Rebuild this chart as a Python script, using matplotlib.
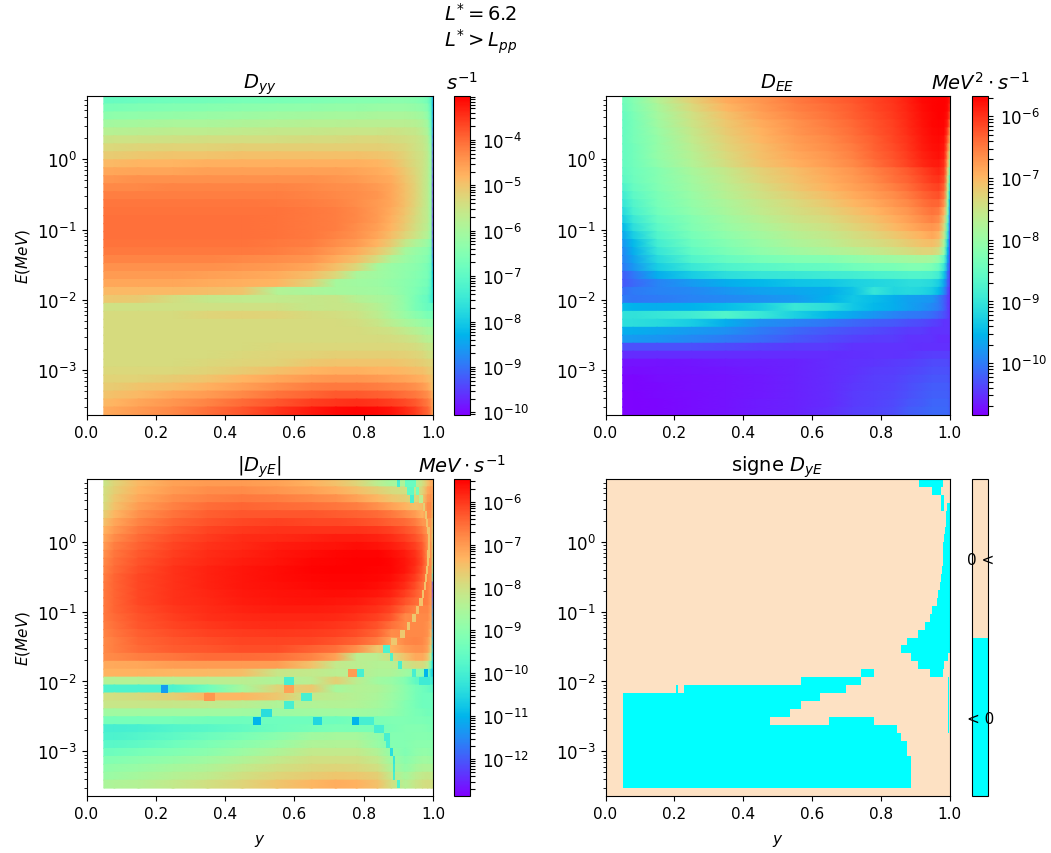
import numpy as np
import matplotlib
matplotlib.use('Agg')
import matplotlib.pyplot as plt
from matplotlib.colors import LogNorm, ListedColormap, BoundaryNorm
from matplotlib.cm import ScalarMappable

plt.rcParams['font.size'] = 11
plt.rcParams['mathtext.fontset'] = 'dejavusans'

# pitch angle nodes
y_nodes = [0.05, 0.08, 0.15, 0.25, 0.35, 0.45, 0.55, 0.65, 0.72, 0.78, 0.84, 0.88, 0.92, 0.95, 0.97, 0.985, 0.995, 1.0]

# log10(E) limits of the energy rows, top to bottom
log_E_edges = [0.9, 0.787, 0.673, 0.56, 0.446, 0.333, 0.219, 0.106, -0.008, -0.122, -0.235, -0.349, -0.462, -0.576,
               -0.689, -0.803, -0.916, -1.03, -1.143, -1.257, -1.37, -1.484, -1.597, -1.711, -1.824, -1.938, -2.051,
               -2.165, -2.278, -2.392, -2.505, -2.619, -2.732, -2.846, -2.959, -3.073, -3.186, -3.3, -3.413, -3.527, -3.64]

# decades labelled on the colorbars
dyy_decades = [-10, -9, -8, -7, -6, -5, -4]
dee_decades = [-10, -9, -8, -7, -6]
dye_decades = [-12, -11, -10, -9, -8, -7, -6]

# log10 of the coefficients, one line per energy row, top to bottom
log_dyy = [
    [-6.9,-6.85,-6.8,-6.75,-6.7,-6.65,-6.6,-6.55,-6.5,-6.45,-6.45,-6.4,-6.4,-6.45,-6.55,-6.7,-7.2,-8.6],
    [-6.65,-6.6,-6.55,-6.5,-6.45,-6.4,-6.35,-6.3,-6.25,-6.25,-6.2,-6.2,-6.2,-6.25,-6.35,-6.5,-7.1,-8.6],
    [-6.4,-6.35,-6.3,-6.25,-6.2,-6.15,-6.1,-6.05,-6.0,-6.0,-5.95,-5.95,-5.95,-6.0,-6.1,-6.3,-7.0,-8.7],
    [-6.1,-6.05,-6.0,-5.95,-5.95,-5.9,-5.85,-5.8,-5.8,-5.75,-5.75,-5.75,-5.75,-5.8,-5.9,-6.1,-6.9,-8.8],
    [-5.8,-5.8,-5.75,-5.7,-5.7,-5.65,-5.6,-5.6,-5.55,-5.55,-5.55,-5.5,-5.55,-5.6,-5.75,-5.95,-6.7,-9.0],
    [-5.55,-5.5,-5.5,-5.45,-5.4,-5.4,-5.4,-5.35,-5.35,-5.3,-5.3,-5.35,-5.4,-5.5,-5.6,-5.8,-6.5,-9.2],
    [-5.3,-5.3,-5.25,-5.2,-5.2,-5.15,-5.15,-5.15,-5.15,-5.15,-5.15,-5.2,-5.3,-5.45,-5.55,-5.75,-6.3,-9.3],
    [-5.1,-5.1,-5.05,-5.0,-5.0,-4.95,-4.95,-4.95,-4.95,-4.95,-5.0,-5.05,-5.2,-5.4,-5.5,-5.7,-6.2,-9.4],
    [-4.85,-4.85,-4.8,-4.8,-4.75,-4.75,-4.75,-4.75,-4.75,-4.75,-4.8,-4.9,-5.15,-5.35,-5.5,-5.7,-6.2,-9.5],
    [-4.65,-4.65,-4.6,-4.6,-4.55,-4.55,-4.55,-4.55,-4.55,-4.6,-4.7,-4.8,-5.05,-5.3,-5.5,-5.7,-6.2,-9.5],
    [-4.45,-4.45,-4.4,-4.4,-4.4,-4.4,-4.4,-4.4,-4.45,-4.5,-4.6,-4.7,-5.0,-5.25,-5.5,-5.7,-6.2,-9.6],
    [-4.3,-4.3,-4.3,-4.25,-4.25,-4.25,-4.25,-4.3,-4.35,-4.4,-4.5,-4.65,-4.95,-5.2,-5.5,-5.7,-6.2,-9.7],
    [-4.2,-4.2,-4.2,-4.2,-4.2,-4.2,-4.2,-4.25,-4.3,-4.35,-4.45,-4.65,-4.95,-5.2,-5.5,-5.7,-6.2,-9.7],
    [-4.12,-4.12,-4.12,-4.12,-4.12,-4.12,-4.15,-4.2,-4.25,-4.35,-4.5,-4.65,-4.95,-5.25,-5.5,-5.7,-6.2,-9.7],
    [-4.1,-4.1,-4.1,-4.1,-4.1,-4.1,-4.1,-4.15,-4.2,-4.3,-4.5,-4.7,-5.0,-5.3,-5.55,-5.7,-6.2,-9.7],
    [-4.05,-4.05,-4.05,-4.05,-4.05,-4.05,-4.1,-4.15,-4.2,-4.3,-4.5,-4.75,-5.05,-5.35,-5.55,-5.7,-6.2,-9.7],
    [-4.05,-4.05,-4.05,-4.05,-4.05,-4.05,-4.1,-4.15,-4.2,-4.35,-4.55,-4.8,-5.1,-5.4,-5.6,-5.75,-6.2,-9.6],
    [-4.05,-4.05,-4.05,-4.05,-4.05,-4.05,-4.1,-4.15,-4.25,-4.4,-4.65,-4.9,-5.25,-5.5,-5.7,-5.85,-6.3,-9.6],
    [-4.1,-4.1,-4.1,-4.1,-4.1,-4.1,-4.15,-4.2,-4.35,-4.5,-4.8,-5.1,-5.6,-5.9,-6.05,-6.2,-6.5,-9.5],
    [-4.15,-4.15,-4.15,-4.15,-4.15,-4.15,-4.2,-4.3,-4.5,-4.7,-5.05,-5.4,-6.0,-6.2,-6.3,-6.4,-6.7,-9.3],
    [-4.25,-4.25,-4.25,-4.25,-4.25,-4.3,-4.35,-4.45,-4.7,-4.95,-5.4,-5.9,-6.15,-6.3,-6.4,-6.5,-6.8,-9.0],
    [-4.4,-4.4,-4.4,-4.4,-4.4,-4.45,-4.5,-4.65,-4.95,-5.3,-6.0,-6.2,-6.3,-6.4,-6.5,-6.6,-6.9,-8.6],
    [-4.5,-4.5,-4.5,-4.5,-4.55,-4.6,-4.7,-4.9,-5.3,-5.95,-6.1,-6.2,-6.35,-6.45,-6.55,-6.65,-7.0,-8.3],
    [-4.65,-4.65,-4.65,-4.65,-4.7,-4.75,-4.8,-5.2,-6.0,-6.1,-6.15,-6.25,-6.4,-6.5,-6.6,-6.7,-7.1,-8.1],
    [-4.85,-4.85,-4.85,-4.85,-4.9,-5.0,-5.85,-5.95,-6.0,-6.05,-6.1,-6.2,-6.4,-6.55,-6.7,-6.8,-7.2,-7.8],
    [-5.05,-5.05,-5.1,-5.4,-5.6,-5.65,-5.65,-5.6,-5.55,-5.8,-5.95,-6.05,-6.35,-6.6,-6.8,-6.9,-7.3,-7.6],
    [-5.45,-5.45,-5.45,-5.45,-5.45,-5.45,-5.45,-5.6,-5.55,-5.6,-5.8,-6.05,-6.3,-6.6,-6.75,-6.85,-6.9,-7.0],
    [-5.35,-5.35,-5.35,-5.35,-5.25,-5.2,-5.25,-5.35,-5.4,-5.5,-5.7,-5.95,-6.2,-6.4,-6.5,-6.6,-6.6,-6.7],
    [-5.35,-5.35,-5.35,-5.35,-5.35,-5.35,-5.35,-5.35,-5.35,-5.4,-5.55,-5.75,-5.95,-6.1,-6.2,-6.25,-6.3,-6.4],
    [-5.35,-5.35,-5.35,-5.35,-5.35,-5.35,-5.35,-5.35,-5.35,-5.35,-5.42,-5.5,-5.65,-5.8,-5.9,-6.0,-6.0,-6.1],
    [-5.35,-5.35,-5.35,-5.35,-5.35,-5.35,-5.35,-5.35,-5.35,-5.35,-5.35,-5.38,-5.45,-5.55,-5.7,-5.8,-5.8,-5.9],
    [-5.35,-5.35,-5.35,-5.35,-5.35,-5.35,-5.3,-5.3,-5.3,-5.3,-5.3,-5.3,-5.32,-5.38,-5.45,-5.55,-5.6,-5.6],
    [-5.35,-5.35,-5.35,-5.35,-5.35,-5.3,-5.25,-5.2,-5.15,-5.15,-5.15,-5.15,-5.18,-5.25,-5.3,-5.4,-5.45,-5.5],
    [-5.35,-5.35,-5.35,-5.35,-5.3,-5.25,-5.2,-5.05,-5.0,-5.0,-5.0,-5.0,-5.05,-5.1,-5.15,-5.2,-5.25,-5.3],
    [-5.3,-5.3,-5.3,-5.3,-5.2,-5.1,-4.95,-4.8,-4.75,-4.75,-4.8,-4.8,-4.85,-4.9,-4.95,-5.05,-5.1,-5.2],
    [-5.2,-5.2,-5.2,-5.1,-5.0,-4.8,-4.65,-4.5,-4.45,-4.45,-4.5,-4.55,-4.6,-4.7,-4.75,-4.85,-4.95,-5.1],
    [-5.1,-5.1,-5.0,-4.9,-4.75,-4.55,-4.35,-4.2,-4.15,-4.15,-4.2,-4.25,-4.3,-4.4,-4.5,-4.65,-4.85,-5.1],
    [-5.0,-4.95,-4.85,-4.65,-4.5,-4.3,-4.1,-3.95,-3.85,-3.85,-3.9,-3.95,-4.05,-4.15,-4.25,-4.35,-4.55,-4.9],
    [-4.85,-4.8,-4.65,-4.45,-4.25,-4.0,-3.8,-3.6,-3.5,-3.45,-3.5,-3.6,-3.7,-3.85,-4.0,-4.15,-4.35,-4.8],
    [-4.7,-4.65,-4.5,-4.3,-4.05,-3.8,-3.5,-3.25,-3.12,-3.08,-3.12,-3.2,-3.4,-3.6,-3.8,-3.95,-4.25,-4.8],
]

log_dee = [
    [-8.4,-8.2,-7.75,-7.25,-6.9,-6.7,-6.5,-6.35,-6.25,-6.12,-6.0,-5.88,-5.75,-5.7,-5.68,-5.68,-5.72,-5.9],
    [-8.45,-8.25,-7.85,-7.35,-7.0,-6.75,-6.55,-6.4,-6.28,-6.15,-6.03,-5.9,-5.76,-5.7,-5.68,-5.68,-5.75,-6.0],
    [-8.5,-8.3,-7.9,-7.45,-7.1,-6.82,-6.6,-6.45,-6.3,-6.18,-6.05,-5.92,-5.78,-5.72,-5.69,-5.7,-5.8,-6.2],
    [-8.5,-8.35,-7.95,-7.5,-7.15,-6.9,-6.68,-6.5,-6.36,-6.22,-6.08,-5.95,-5.8,-5.73,-5.7,-5.72,-5.9,-6.5],
    [-8.5,-8.35,-8.0,-7.55,-7.2,-6.95,-6.72,-6.55,-6.4,-6.25,-6.1,-5.97,-5.82,-5.74,-5.72,-5.75,-6.1,-6.8],
    [-8.5,-8.35,-8.05,-7.6,-7.25,-7.0,-6.78,-6.6,-6.45,-6.3,-6.13,-6.0,-5.84,-5.76,-5.74,-5.8,-6.3,-7.0],
    [-8.5,-8.38,-8.05,-7.65,-7.3,-7.05,-6.82,-6.65,-6.5,-6.33,-6.16,-6.03,-5.86,-5.78,-5.76,-5.85,-6.5,-7.3],
    [-8.5,-8.38,-8.05,-7.7,-7.35,-7.08,-6.88,-6.7,-6.55,-6.37,-6.2,-6.06,-5.9,-5.82,-5.78,-5.9,-6.7,-7.6],
    [-8.5,-8.4,-8.1,-7.75,-7.4,-7.12,-6.93,-6.75,-6.6,-6.42,-6.24,-6.1,-5.95,-5.86,-5.84,-6.0,-6.9,-8.0],
    [-8.55,-8.42,-8.2,-7.85,-7.55,-7.25,-7.05,-6.85,-6.7,-6.55,-6.38,-6.27,-6.1,-5.98,-5.92,-6.1,-7.2,-8.4],
    [-8.6,-8.45,-8.2,-7.9,-7.6,-7.3,-7.1,-6.9,-6.75,-6.6,-6.43,-6.32,-6.17,-6.05,-6.0,-6.2,-7.4,-8.7],
    [-8.75,-8.5,-8.25,-7.95,-7.65,-7.4,-7.15,-6.95,-6.82,-6.68,-6.52,-6.4,-6.25,-6.15,-6.1,-6.35,-7.6,-9.0],
    [-8.9,-8.6,-8.3,-8.0,-7.7,-7.45,-7.25,-7.05,-6.9,-6.77,-6.62,-6.5,-6.35,-6.25,-6.2,-6.5,-7.8,-9.3],
    [-9.0,-8.7,-8.35,-8.05,-7.8,-7.55,-7.35,-7.15,-7.0,-6.87,-6.72,-6.6,-6.45,-6.35,-6.35,-6.7,-8.0,-9.6],
    [-9.15,-8.8,-8.4,-8.1,-7.85,-7.6,-7.42,-7.25,-7.1,-6.97,-6.82,-6.7,-6.55,-6.45,-6.5,-6.95,-8.2,-9.8],
    [-9.3,-8.95,-8.5,-8.2,-7.95,-7.7,-7.5,-7.35,-7.2,-7.07,-6.92,-6.8,-6.65,-6.55,-6.65,-7.2,-8.5,-10.0],
    [-9.5,-9.1,-8.6,-8.25,-8.0,-7.8,-7.6,-7.45,-7.3,-7.17,-7.02,-6.9,-6.78,-6.7,-6.8,-7.4,-8.8,-10.1],
    [-9.65,-9.3,-8.7,-8.35,-8.1,-7.9,-7.7,-7.55,-7.42,-7.3,-7.15,-7.05,-6.95,-6.85,-7.0,-7.6,-9.0,-10.2],
    [-9.8,-9.5,-8.85,-8.45,-8.2,-8.0,-7.8,-7.65,-7.5,-7.42,-7.3,-7.2,-7.1,-7.05,-7.2,-7.85,-9.3,-10.3],
    [-9.9,-9.6,-9.0,-8.55,-8.3,-8.1,-7.95,-7.8,-7.7,-7.6,-7.48,-7.4,-7.3,-7.3,-7.45,-8.1,-9.5,-10.3],
    [-9.95,-9.7,-9.15,-8.7,-8.5,-8.35,-8.25,-8.2,-8.1,-8.0,-7.95,-7.9,-7.85,-7.9,-8.1,-8.6,-9.7,-10.3],
    [-10.0,-9.8,-9.3,-8.95,-8.75,-8.65,-8.55,-8.5,-8.4,-8.35,-8.3,-8.25,-8.25,-8.3,-8.5,-9.0,-9.9,-10.35],
    [-10.2,-10.05,-9.6,-9.3,-9.1,-9.0,-8.95,-8.9,-8.85,-8.8,-8.75,-8.7,-8.7,-8.75,-8.9,-9.4,-10.1,-10.4],
    [-10.25,-10.15,-9.95,-9.75,-9.6,-9.5,-9.4,-9.35,-9.25,-9.2,-9.15,-9.1,-9.1,-9.15,-9.3,-9.7,-10.2,-10.4],
    [-10.1,-10.0,-9.95,-9.9,-9.8,-9.7,-9.65,-9.6,-9.4,-9.0,-9.2,-9.15,-9.2,-9.3,-9.5,-9.9,-10.3,-10.5],
    [-10.0,-10.05,-10.0,-9.95,-9.9,-9.85,-9.75,-9.55,-9.35,-9.45,-9.6,-9.7,-9.75,-9.8,-10.0,-10.2,-10.4,-10.5],
    [-9.5,-9.55,-9.6,-9.55,-9.45,-9.3,-8.95,-9.1,-9.35,-9.5,-9.6,-9.7,-9.8,-9.9,-10.0,-10.2,-10.4,-10.5],
    [-9.05,-9.05,-9.0,-8.9,-8.7,-8.95,-9.25,-9.5,-9.65,-9.8,-9.95,-10.0,-10.05,-10.1,-10.2,-10.3,-10.4,-10.5],
    [-9.1,-9.1,-9.15,-9.3,-9.6,-9.85,-9.95,-10.05,-10.15,-10.2,-10.25,-10.3,-10.35,-10.4,-10.45,-10.5,-10.5,-10.5],
    [-9.6,-9.6,-9.65,-9.75,-9.85,-10.0,-10.15,-10.25,-10.3,-10.35,-10.4,-10.45,-10.45,-10.5,-10.5,-10.5,-10.5,-10.5],
    [-9.75,-9.75,-9.8,-9.9,-10.0,-10.1,-10.25,-10.35,-10.4,-10.45,-10.45,-10.5,-10.5,-10.5,-10.55,-10.55,-10.55,-10.55],
    [-10.3,-10.3,-10.3,-10.3,-10.35,-10.4,-10.45,-10.45,-10.5,-10.5,-10.5,-10.5,-10.52,-10.52,-10.52,-10.52,-10.52,-10.52],
    [-10.55,-10.55,-10.55,-10.55,-10.55,-10.55,-10.55,-10.55,-10.52,-10.5,-10.5,-10.48,-10.45,-10.42,-10.42,-10.42,-10.42,-10.42],
    [-10.7,-10.7,-10.7,-10.68,-10.65,-10.62,-10.6,-10.55,-10.5,-10.48,-10.45,-10.42,-10.38,-10.35,-10.35,-10.35,-10.35,-10.38],
    [-10.75,-10.75,-10.72,-10.7,-10.68,-10.65,-10.6,-10.55,-10.5,-10.45,-10.42,-10.38,-10.34,-10.3,-10.3,-10.3,-10.3,-10.33],
    [-10.78,-10.78,-10.75,-10.72,-10.7,-10.66,-10.6,-10.55,-10.48,-10.43,-10.4,-10.35,-10.3,-10.27,-10.27,-10.27,-10.27,-10.3],
    [-10.78,-10.78,-10.76,-10.73,-10.7,-10.66,-10.6,-10.55,-10.47,-10.42,-10.38,-10.32,-10.27,-10.23,-10.23,-10.23,-10.23,-10.27],
    [-10.8,-10.8,-10.77,-10.74,-10.7,-10.66,-10.6,-10.55,-10.45,-10.4,-10.36,-10.3,-10.25,-10.2,-10.2,-10.2,-10.2,-10.25],
    [-10.8,-10.8,-10.78,-10.75,-10.7,-10.65,-10.6,-10.54,-10.45,-10.4,-10.34,-10.27,-10.22,-10.17,-10.17,-10.17,-10.17,-10.22],
    [-10.8,-10.8,-10.78,-10.75,-10.7,-10.65,-10.6,-10.53,-10.43,-10.38,-10.32,-10.23,-10.18,-10.14,-10.14,-10.14,-10.14,-10.2],
]

# |D_yE| has no value in the lowest energy row
log_dye = [
    [-8.1,-7.8,-7.4,-7.1,-7.0,-7.0,-7.1,-7.3,-7.5,-7.8,-8.3,-8.6,-8.5,-8.4,-8.0,-7.5,-7.2,-7.4],
    [-8.0,-7.7,-7.3,-7.0,-6.88,-6.85,-6.95,-7.1,-7.25,-7.45,-7.7,-7.9,-8.0,-8.2,-7.8,-7.2,-7.0,-7.3],
    [-8.0,-7.6,-7.2,-6.88,-6.72,-6.65,-6.7,-6.8,-6.9,-7.1,-7.35,-7.55,-7.7,-7.9,-7.6,-7.0,-6.9,-7.4],
    [-7.9,-7.5,-7.05,-6.72,-6.52,-6.45,-6.5,-6.55,-6.6,-6.7,-6.9,-7.1,-7.3,-7.5,-7.4,-6.85,-6.8,-7.6],
    [-7.7,-7.35,-6.9,-6.58,-6.38,-6.3,-6.3,-6.3,-6.35,-6.4,-6.5,-6.65,-6.85,-7.05,-7.3,-6.85,-6.9,-7.7],
    [-7.5,-7.15,-6.75,-6.45,-6.25,-6.15,-6.1,-6.15,-6.15,-6.2,-6.3,-6.4,-6.5,-6.7,-6.95,-7.0,-7.0,-7.9],
    [-7.3,-7.0,-6.6,-6.32,-6.12,-6.0,-5.95,-5.95,-5.95,-5.95,-6.0,-6.1,-6.25,-6.45,-6.7,-7.0,-7.0,-8.0],
    [-7.15,-6.85,-6.5,-6.22,-6.02,-5.9,-5.85,-5.8,-5.75,-5.75,-5.8,-5.9,-6.05,-6.25,-6.5,-6.9,-7.0,-8.1],
    [-7.0,-6.7,-6.4,-6.12,-5.95,-5.85,-5.75,-5.7,-5.65,-5.6,-5.65,-5.75,-5.9,-6.1,-6.35,-6.9,-6.9,-8.2],
    [-6.9,-6.6,-6.32,-6.05,-5.9,-5.8,-5.7,-5.6,-5.55,-5.5,-5.5,-5.6,-5.75,-5.95,-6.25,-6.9,-6.9,-8.3],
    [-6.8,-6.55,-6.25,-6.0,-5.85,-5.75,-5.65,-5.55,-5.5,-5.48,-5.48,-5.55,-5.7,-5.9,-6.2,-6.85,-6.85,-8.6],
    [-6.75,-6.5,-6.2,-5.95,-5.8,-5.7,-5.6,-5.5,-5.48,-5.48,-5.5,-5.55,-5.7,-5.95,-6.3,-6.8,-6.85,-9.2],
    [-6.7,-6.45,-6.15,-5.95,-5.8,-5.7,-5.6,-5.55,-5.5,-5.5,-5.55,-5.6,-5.8,-6.05,-6.4,-6.75,-6.9,-10.0],
    [-6.65,-6.45,-6.15,-5.95,-5.8,-5.7,-5.62,-5.57,-5.55,-5.55,-5.6,-5.7,-5.9,-6.2,-6.55,-6.7,-6.95,-12.0],
    [-6.65,-6.45,-6.15,-5.95,-5.82,-5.72,-5.65,-5.62,-5.6,-5.62,-5.7,-5.8,-6.05,-6.35,-6.6,-6.7,-7.0,-12.2],
    [-6.65,-6.45,-6.15,-5.95,-5.85,-5.75,-5.7,-5.67,-5.68,-5.72,-5.82,-5.95,-6.25,-6.5,-6.65,-6.7,-7.05,-11.8],
    [-6.65,-6.45,-6.2,-6.0,-5.88,-5.8,-5.75,-5.75,-5.77,-5.82,-5.95,-6.12,-6.5,-6.75,-6.75,-6.75,-7.1,-11.5],
    [-6.65,-6.5,-6.25,-6.05,-5.92,-5.85,-5.82,-5.82,-5.87,-5.95,-6.1,-6.3,-6.8,-6.8,-6.8,-6.8,-7.15,-11.3],
    [-6.7,-6.55,-6.3,-6.12,-6.0,-5.93,-5.9,-5.92,-5.97,-6.07,-6.25,-6.55,-6.8,-6.8,-6.8,-6.9,-7.2,-11.2],
    [-6.75,-6.6,-6.38,-6.2,-6.1,-6.02,-6.0,-6.03,-6.1,-6.22,-6.45,-6.85,-6.8,-6.8,-6.8,-6.9,-7.4,-11.1],
    [-6.8,-6.7,-6.45,-6.28,-6.2,-6.12,-6.12,-6.15,-6.25,-6.4,-6.7,-7.1,-6.8,-6.75,-6.8,-7.0,-7.6,-11.0],
    [-6.8,-6.7,-6.5,-6.35,-6.28,-6.22,-6.22,-6.4,-6.55,-6.9,-7.6,-7.3,-7.0,-6.9,-6.9,-7.1,-7.9,-11.0],
    [-6.85,-6.8,-6.7,-6.6,-6.5,-6.5,-6.55,-6.75,-7.1,-8.3,-8.3,-8.0,-7.5,-7.2,-7.2,-7.5,-8.5,-11.0],
    [-7.2,-7.2,-7.15,-7.05,-7.0,-7.0,-7.05,-7.5,-8.2,-8.3,-8.4,-8.4,-8.1,-7.9,-7.9,-8.2,-9.5,-10.8],
    [-7.3,-7.3,-7.3,-7.35,-7.4,-7.45,-8.1,-8.2,-8.3,-8.3,-8.5,-8.5,-8.7,-8.9,-9.0,-9.3,-10.3,-10.8],
    [-8.4,-8.4,-8.4,-8.35,-8.3,-8.3,-8.5,-8.3,-7.7,-8.3,-8.7,-8.8,-9.1,-9.6,-9.7,-9.8,-10.0,-10.3],
    [-9.9,-9.9,-9.9,-9.9,-9.4,-8.6,-7.8,-7.6,-8.6,-8.4,-8.5,-8.7,-9.0,-9.3,-9.4,-9.5,-9.6,-9.8],
    [-8.0,-8.0,-7.9,-7.7,-7.35,-7.35,-7.6,-8.2,-8.3,-8.4,-8.55,-8.75,-9.0,-9.3,-9.4,-9.4,-9.4,-9.5],
    [-8.1,-8.1,-8.1,-8.15,-8.2,-8.3,-8.5,-8.45,-8.4,-8.45,-8.6,-8.8,-9.1,-9.3,-9.4,-9.4,-9.4,-9.4],
    [-8.7,-8.7,-8.7,-8.7,-8.7,-8.7,-8.75,-8.7,-8.7,-8.7,-8.75,-8.9,-9.1,-9.25,-9.3,-9.35,-9.35,-9.35],
    [-9.3,-9.3,-9.3,-9.3,-9.35,-9.4,-9.4,-9.4,-9.4,-9.3,-9.2,-9.15,-9.15,-9.2,-9.2,-9.25,-9.25,-9.3],
    [-10.0,-10.0,-9.95,-9.8,-9.7,-9.55,-9.4,-9.3,-9.2,-9.25,-9.3,-9.2,-9.1,-9.1,-9.1,-9.15,-9.2,-9.2],
    [-9.9,-9.9,-9.8,-9.65,-9.45,-9.25,-9.0,-8.7,-8.6,-8.6,-8.85,-9.1,-9.1,-9.05,-9.05,-9.05,-9.1,-9.1],
    [-9.7,-9.7,-9.6,-9.4,-9.2,-9.0,-8.8,-8.5,-8.45,-8.45,-8.8,-9.1,-9.1,-9.0,-9.0,-9.0,-9.0,-9.05],
    [-9.45,-9.4,-9.3,-9.15,-9.0,-8.75,-8.5,-8.2,-8.2,-8.2,-8.45,-8.9,-9.15,-8.95,-8.9,-8.9,-8.95,-9.0],
    [-9.15,-9.1,-9.0,-8.85,-8.7,-8.45,-8.2,-8.0,-8.0,-8.0,-8.2,-8.7,-9.0,-8.8,-8.7,-8.7,-8.75,-8.8],
    [-8.95,-8.9,-8.8,-8.6,-8.45,-8.2,-8.0,-7.85,-7.8,-7.85,-8.0,-8.5,-8.9,-8.6,-8.5,-8.5,-8.5,-8.55],
    [-8.8,-8.75,-8.6,-8.4,-8.25,-8.0,-7.8,-7.65,-7.55,-7.6,-7.7,-8.2,-8.6,-8.3,-8.2,-8.15,-8.2,-8.25],
    [-8.55,-8.5,-8.4,-8.2,-8.0,-7.8,-7.55,-7.35,-7.25,-7.3,-7.5,-8.0,-8.4,-8.1,-8.0,-7.95,-8.0,-8.05],
]

# cells of |D_yE| that stand out from their row
spot_y0 = [0.215, 0.34, 0.48, 0.505, 0.57, 0.57, 0.57, 0.62, 0.655, 0.755, 0.765, 0.78, 0.785,
           0.83, 0.86, 0.865, 0.875, 0.885, 0.885, 0.885, 0.895, 0.855, 0.875, 0.9, 0.94, 0.975, 0.96,
           0.88, 0.905, 0.925, 0.94, 0.95, 0.96, 0.968, 0.974, 0.978, 0.98, 0.982, 0.984, 0.986, 0.986,
           0.984, 0.98, 0.976, 0.97, 0.96, 0.95, 0.925, 0.92, 0.895, 0.935]
spot_y1 = [0.235, 0.37, 0.505, 0.535, 0.60, 0.60, 0.60, 0.65, 0.68, 0.78, 0.785, 0.80, 0.83,
           0.86, 0.875, 0.875, 0.885, 0.89, 0.89, 0.89, 0.905, 0.875, 0.885, 0.91, 0.95, 0.985, 0.99,
           0.895, 0.92, 0.935, 0.95, 0.96, 0.97, 0.975, 0.98, 0.984, 0.986, 0.988, 0.99, 0.991, 0.991,
           0.99, 0.986, 0.982, 0.978, 0.97, 0.96, 0.945, 0.95, 0.905, 0.945]
spot_row = [26, 27, 30, 29, 26, 25, 28, 27, 30, 24, 30, 24, 30,
            31, 32, 33, 34, 35, 36, 37, 38, 21, 22, 23, 24, 24, 25,
            20, 19, 18, 17, 16, 15, 14, 13, 12, 11, 10, 9, 8, 7,
            6, 5, 4, 3, 2, 1, 1, 0, 0, 2]
spot_log = [-11.3, -6.95, -11.0, -10.4, -7.1, -10.0, -10.0, -10.0, -10.5, -7.0, -11.0, -10.0, -10.0,
            -10.0, -10.0, -10.0, -10.4, -10.2, -10.1, -10.0, -9.9, -9.9, -9.9, -10.0, -10.0, -11.0, -10.1,
            -7.6, -7.6, -7.6, -7.6, -7.5, -7.5, -7.5, -7.5, -7.5, -7.5, -7.5, -7.5, -7.5, -7.5,
            -7.5, -7.5, -7.6, -7.7, -8.3, -9.3, -9.6, -9.5, -10.0, -10.0]

# E rows where D_yE < 0, as (row, y start, y stop)
neg_row = [0, 1, 2, 3, 3, 4, 5, 6, 7, 8, 9, 10, 11, 12, 13, 14, 15, 16, 17, 18, 19, 20, 21, 22, 23, 24, 24, 25, 25,
           26, 26, 27, 28, 29, 30, 30, 31, 32, 33, 34, 35, 36, 37, 38, 26, 27, 28, 29, 30, 31]
neg_y0 = [0.912, 0.95, 0.975, 0.975, 0.993, 0.991, 0.989, 0.986, 0.984, 0.982, 0.981, 0.98, 0.977, 0.975, 0.972, 0.968,
          0.964, 0.95, 0.943, 0.929, 0.908, 0.875, 0.86, 0.888, 0.908, 0.943, 0.744, 0.568, 0.996, 0.228, 0.205, 0.05,
          0.05, 0.05, 0.05, 0.65, 0.05, 0.05, 0.05, 0.05, 0.05, 0.05, 0.05, 0.05, 0.996, 0.996, 0.996, 0.996, 0.996, 0.996]
neg_y1 = [0.982, 0.975, 0.985, 0.985, 1.0, 1.0, 1.0, 1.0, 1.0, 1.0, 1.0, 1.0, 1.0, 1.0, 1.0, 1.0,
          1.0, 1.0, 1.0, 1.0, 1.0, 1.0, 1.0, 0.997, 0.985, 0.982, 0.781, 0.744, 0.999, 0.70, 0.21, 0.623,
          0.568, 0.536, 0.478, 0.78, 0.847, 0.86, 0.875, 0.875, 0.888, 0.888, 0.888, 0.888, 0.999, 0.999, 0.999, 0.999, 0.999, 0.999]

W, H = 1051, 854
beige = '#fde1c3'


def box(x0, x1, y0, y1):
    return [x0 / W, 1 - y1 / H, (x1 - x0) / W, (y1 - y0) / H]


def draw_map(ax, cax, table, edges, lims, decades, title, unit):
    edge = 10.0 ** np.array(edges)
    rows = np.column_stack((edge[:-1], edge[1:])).ravel()
    X, Y = np.meshgrid(y_nodes, rows)
    Z = np.repeat(10.0 ** np.array(table), 2, axis=0)
    norm = LogNorm(vmin=10.0 ** lims[0], vmax=10.0 ** lims[1])
    m = ax.pcolormesh(X, Y, Z, shading='gouraud', cmap='rainbow', norm=norm)
    ax.set_yscale('log')
    ax.set_title(title, fontsize=14, pad=6)
    cb = fig.colorbar(m, cax=cax)
    cb.set_ticks([10.0 ** d for d in decades])
    # minor ticks inside the colour range only
    minors = [k * 10.0 ** d for d in range(-14, -1) for k in range(2, 10)]
    minors = [t for t in minors if norm.vmin <= t <= norm.vmax]
    cax.set_yticks(minors, minor=True)
    cax.tick_params(which='both', length=3.6, width=0.8)
    cax.tick_params(which='major', pad=5.5, labelsize=12)
    cax.set_title(unit, fontsize=14, pad=5)
    return norm


def finish(ax):
    ax.set_xlim(0, 1)
    ax.set_ylim(10.0 ** log_E_edges[-1], 10.0 ** log_E_edges[0])
    ax.tick_params(axis='y', which='major', labelsize=12)


fig = plt.figure(figsize=(W / 100, H / 100), dpi=100)

ax1 = fig.add_axes(box(86.5, 433, 97, 416))
cax1 = fig.add_axes(box(454, 469.5, 97, 416))
ax2 = fig.add_axes(box(605.5, 949.5, 97, 416))
cax2 = fig.add_axes(box(972, 987.5, 97, 416))
ax3 = fig.add_axes(box(86.5, 433, 480, 797))
cax3 = fig.add_axes(box(454, 469.5, 480, 797))
ax4 = fig.add_axes(box(605.5, 949.5, 480, 797))
cax4 = fig.add_axes(box(972, 987.5, 480, 797))

draw_map(ax1, cax1, log_dyy, log_E_edges, (-10.06, -3.03), dyy_decades, '$D_{yy}$', '$s^{-1}$')
draw_map(ax2, cax2, log_dee, log_E_edges, (-10.84, -5.67), dee_decades, '$D_{EE}$', r'$MeV^2 \cdot s^{-1}$')
norm3 = draw_map(ax3, cax3, log_dye, log_E_edges[:40], (-12.86, -5.47), dye_decades, '$|D_{yE}|$', r'$MeV \cdot s^{-1}$')

for y0, y1, r, v in zip(spot_y0, spot_y1, spot_row, spot_log):
    ax3.pcolormesh([y0, y1], [10.0 ** log_E_edges[r], 10.0 ** log_E_edges[r + 1]], [[10.0 ** v]],
                   cmap='rainbow', norm=norm3)

# sign panel
ax4.set_facecolor(beige)
ax4.set_yscale('log')
for r, y0, y1 in zip(neg_row, neg_y0, neg_y1):
    ax4.fill_between([y0, y1], 10.0 ** log_E_edges[r + 1], 10.0 ** log_E_edges[r], color='#00ffff', lw=0)
ax4.set_title('signe $D_{yE}$', fontsize=14, pad=6)

sign_cmap = ListedColormap(['#00ffff', beige])
sm = ScalarMappable(norm=BoundaryNorm([0, 0.5, 1], 2), cmap=sign_cmap)
cb4 = fig.colorbar(sm, cax=cax4)
cb4.set_ticks([0.25, 0.75], labels=['< 0', '0 <'])
cb4.minorticks_off()
cax4.tick_params(length=0, pad=-15, labelsize=11)

for ax in (ax1, ax2, ax3, ax4):
    finish(ax)
for ax in (ax1, ax3):
    ax.set_ylabel('$E(MeV)$', labelpad=4)
for ax in (ax3, ax4):
    ax.set_xlabel('$y$', labelpad=8)

fig.text(481 / W, 1 - 14 / H, '$L^{*} = 6.2$', ha='center', va='center', fontsize=14)
fig.text(481 / W, 1 - 42 / H, '$L^{*} > L_{pp}$', ha='center', va='center', fontsize=14)

fig.savefig('out.png', dpi=100)
